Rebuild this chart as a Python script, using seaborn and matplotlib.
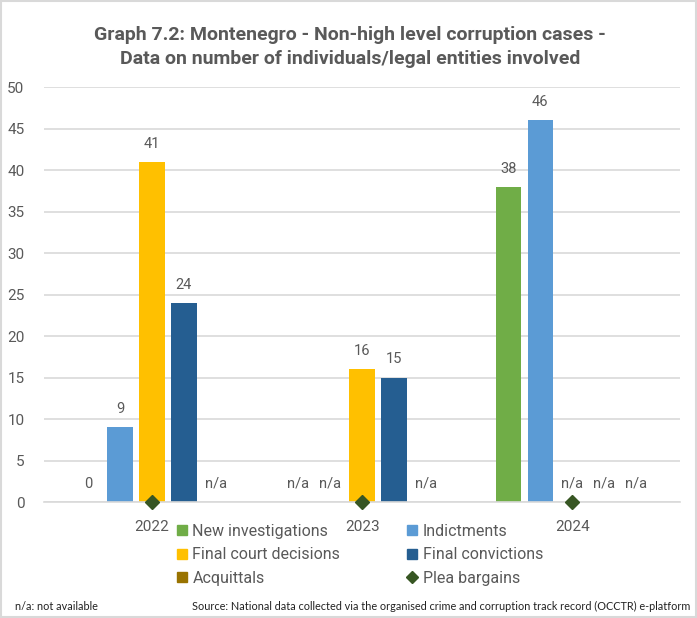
import numpy as np
import pandas as pd
import matplotlib.pyplot as plt
import seaborn as sns
from matplotlib.patches import Patch, Rectangle
from matplotlib.lines import Line2D

# --- Data ---
years = ["2022", "2023", "2024"]
series = ["New investigations", "Indictments", "Final court decisions",
          "Final convictions", "Acquittals"]
new_investigations = [0, np.nan, 38]
indictments = [9, np.nan, 46]
final_court_decisions = [41, 16, np.nan]
final_convictions = [24, 15, np.nan]
acquittals = [np.nan, np.nan, np.nan]
plea_bargains = [0, 0, 0]

colors = {"New investigations": "#70AD47", "Indictments": "#5B9BD5",
          "Final court decisions": "#FFC000", "Final convictions": "#255E91",
          "Acquittals": "#997300"}
plea_color = "#375623"
text_color = "#595959"

values = [new_investigations, indictments, final_court_decisions,
          final_convictions, acquittals]
df = pd.DataFrame([(y, s, v[i]) for s, v in zip(series, values)
                   for i, y in enumerate(years)],
                  columns=["year", "series", "value"])

sns.set_style("white")
plt.rcParams["font.family"] = ["Roboto", "DejaVu Sans"]

fig = plt.figure(figsize=(6.97, 6.18), dpi=100)
ax = fig.add_axes([0.063, 0.1877, 0.913, 0.6715])

width = 0.76
sns.barplot(data=df, x="year", y="value", hue="series", order=years,
            hue_order=series, palette=colors, width=width, gap=0.2,
            saturation=1, linewidth=0, legend=False, ax=ax, zorder=2)

# plea bargains as diamonds at each year
ax.plot(range(len(years)), plea_bargains, linestyle="none", marker="D",
        markersize=7, color=plea_color, zorder=5, clip_on=False)

# value labels ("n/a" where missing)
slot = width / len(series)
for j, (s, v) in enumerate(zip(series, values)):
    for i, val in enumerate(v):
        x = i + (j - (len(series) - 1) / 2) * slot
        lab = "n/a" if np.isnan(val) else f"{val:g}"
        y = 0 if np.isnan(val) else val
        ax.annotate(lab, (x, y), xytext=(0, 8), textcoords="offset points",
                    ha="center", va="bottom", fontsize=10.5, color=text_color)

ax.set_ylim(0, 50)
ax.set_xlim(-0.514, 2.514)
ax.set_yticks(range(0, 51, 5))
ax.yaxis.grid(True, color="#D9D9D9", linewidth=1.2, zorder=0)
ax.set_axisbelow(True)
ax.set_xlabel("")
ax.set_ylabel("")
for sp in ["top", "right", "left"]:
    ax.spines[sp].set_visible(False)
ax.spines["bottom"].set_color("#D9D9D9")
ax.spines["bottom"].set_linewidth(1.2)
ax.tick_params(axis="both", length=0, labelsize=11, colors=text_color)
ax.tick_params(axis="x", pad=13)
ax.tick_params(axis="y", pad=14)

fig.text(0.502, 1 - 47 / 618, "Graph 7.2: Montenegro - Non-high level corruption cases -\n"
         "Data on number of individuals/legal entities involved",
         ha="center", va="center", fontsize=14, fontweight="bold",
         color=text_color, linespacing=1.38)

# legend (column-wise fill for 2 columns)
handles = [Patch(color=colors["New investigations"]),
           Patch(color=colors["Final court decisions"]),
           Patch(color=colors["Acquittals"]),
           Patch(color=colors["Indictments"]),
           Patch(color=colors["Final convictions"]),
           Line2D([], [], linestyle="none", marker="D", markersize=6, color=plea_color)]
labels = ["New investigations", "Final court decisions", "Acquittals",
          "Indictments", "Final convictions", "Plea bargains"]
leg = fig.legend(handles, labels, ncol=2, loc="upper left",
                 bbox_to_anchor=(177 / 697, 1 - 524 / 618), frameon=False,
                 fontsize=11.5, handlelength=0.6, handleheight=0.6,
                 handletextpad=0.36, labelspacing=0.52, columnspacing=4.2,
                 borderpad=0, borderaxespad=0)
for t in leg.get_texts():
    t.set_color(text_color)

fig.text(15 / 697, 1 - 606 / 618, "n/a: not available", fontsize=7.8,
         color="#222222", va="center", family=["Lato", "DejaVu Sans"])
fig.text(690 / 697, 1 - 606 / 618,
         "Source: National data collected via the organised crime and corruption track record (OCCTR) e-platform",
         fontsize=7.8, color="#222222", va="center", ha="right",
         family=["Lato", "DejaVu Sans"])

fig.patches.append(Rectangle((0.002, 0.002), 0.996, 0.996, transform=fig.transFigure,
                             fill=False, edgecolor="#D9D9D9", linewidth=1.5))

fig.savefig("out.png", dpi=100)
